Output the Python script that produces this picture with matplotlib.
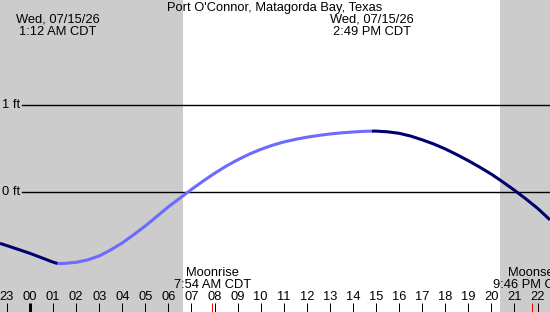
import matplotlib
matplotlib.use("Agg")
import matplotlib.pyplot as plt

# ---- data ----
title = "Port O'Connor, Matagorda Bay, Texas"
tide_hours = [-1.3, -1, -0.5, 0, 0.5, 1, 1.2, 1.5, 2, 2.5, 3, 3.5, 4, 4.5, 5,
              5.5, 6, 6.5, 7, 7.5, 8, 8.5, 9, 9.5, 10, 10.5, 11, 11.5, 12,
              12.5, 13, 13.5, 14, 14.5, 14.82, 15, 15.5, 16, 16.5, 17, 17.5,
              18, 18.5, 19, 19.5, 20, 20.5, 21, 21.5, 22, 22.54]
tide_ft = [-0.59, -0.616, -0.66, -0.705, -0.755, -0.806, -0.822, -0.82, -0.808,
           -0.78, -0.735, -0.665, -0.585, -0.49, -0.39, -0.28, -0.17, -0.07,
           0.03, 0.125, 0.215, 0.297, 0.37, 0.435, 0.49, 0.537, 0.575, 0.605,
           0.63, 0.65, 0.667, 0.68, 0.69, 0.698, 0.70, 0.70, 0.692, 0.675,
           0.643, 0.60, 0.552, 0.495, 0.43, 0.36, 0.285, 0.205, 0.115, 0.02,
           -0.08, -0.187, -0.32]
low_hour, high_hour = 1.2, 14.82
low_label = ["Wed, 07/15/26", "1:12 AM CDT"]
high_label = ["Wed, 07/15/26", "2:49 PM CDT"]
sunrise_hour, sunset_hour = 6.63, 20.37
moonrise_hour, moonset_hour = 7.9, 21.77
moonrise_label = ["Moonrise", "7:54 AM CDT"]
moonset_label = ["Moonset", "9:46 PM CDT"]
hour_ticks = list(range(-1, 24))
hour_labels = ["%02d" % (h % 24) for h in hour_ticks]
level_ticks = [0, 1]
level_labels = ["0 ft", "1 ft"]

# ---- layout ----
W, H = 550, 312
X0, X1 = -1.30, 22.54
Y0, Y1 = -1.379, 2.207
FONT = "Liberation Sans"
FS = 9.3
navy = "#000070"
light = "#6b6bff"
gray = "#cccccc"

fig = plt.figure(figsize=(W / 100, H / 100), dpi=100)
ax = fig.add_axes([0, 0, 1, 1])
ax.set_xlim(X0, X1)
ax.set_ylim(Y0, Y1)
ax.axis("off")

def fy(px):
    return 1 - px / H

xt = ax.get_xaxis_transform()

# night shading
ax.axvspan(X0, sunrise_hour, color=gray, lw=0, zorder=0)
ax.axvspan(sunset_hour, X1, color=gray, lw=0, zorder=0)

# level lines
x_line_start = X0 + 22 / W * (X1 - X0)
for lv, lb in zip(level_ticks, level_labels):
    ax.plot([x_line_start, X1], [lv, lv], color="black", lw=1.0, zorder=2)
    ax.text(X0 + 2 / W * (X1 - X0), lv, lb, fontsize=FS, family=FONT,
            ha="left", va="center", zorder=3)

# tide curve in three segments
def seg(lo, hi):
    xs = [h for h in tide_hours if lo <= h <= hi]
    ys = [v for h, v in zip(tide_hours, tide_ft) if lo <= h <= hi]
    return xs, ys

for (lo, hi), c in [((X0 - 1, low_hour), navy), ((low_hour, high_hour), light),
                    ((high_hour, X1 + 1), navy)]:
    xs, ys = seg(lo, hi)
    ax.plot(xs, ys, color=c, lw=2.2, solid_capstyle="butt",
            solid_joinstyle="round", zorder=4)

# texts
ax.text((X0 + X1) / 2, fy(8), title, transform=xt, fontsize=FS, family=FONT,
        ha="center", va="center")
for hx, lines in [(low_hour, low_label), (high_hour, high_label)]:
    ax.text(hx, fy(20), lines[0], transform=xt, fontsize=FS, family=FONT,
            ha="center", va="center")
    ax.text(hx, fy(32), lines[1], transform=xt, fontsize=FS, family=FONT,
            ha="center", va="center")
for hx, lines in [(moonrise_hour, moonrise_label), (moonset_hour, moonset_label)]:
    ax.text(hx, fy(273.5), lines[0], transform=xt, fontsize=FS, family=FONT,
            ha="center", va="center")
    ax.text(hx, fy(285.5), lines[1], transform=xt, fontsize=FS, family=FONT,
            ha="center", va="center")

# hour labels and ticks
for h, lb in zip(hour_ticks, hour_labels):
    ax.text(h, fy(297.5), lb, transform=xt, fontsize=FS, family=FONT,
            ha="center", va="center", clip_on=True)
    lw = 3 if lb == "00" else 1
    ax.plot([h, h], [fy(303), 0], transform=xt, color="black", lw=lw * 0.72,
            solid_capstyle="butt", zorder=5)
for h in (moonrise_hour, moonset_hour):
    ax.plot([h, h], [fy(303), 0], transform=xt, color="red", lw=0.72,
            solid_capstyle="butt", zorder=6)

fig.savefig("out.png", dpi=100)
